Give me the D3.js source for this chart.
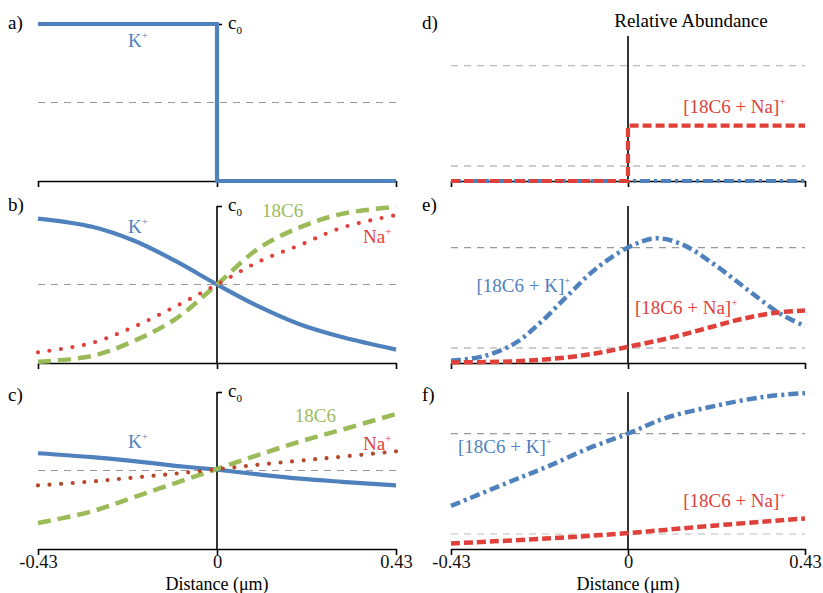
<!DOCTYPE html>
<html>
<head>
<meta charset="utf-8">
<script src="https://cdn.jsdelivr.net/npm/d3@7"></script>
<style>
  body { margin: 0; background: #fff; }
  text { font-family: "Liberation Serif", "Times New Roman", serif; }
</style>
</head>
<body>
<main></main>
<script>
// ---- data ----
var xTicks = [-0.43, 0, 0.43];
var xTickLabels = ['-0.43', '0', '0.43'];

// a) step profile
var stepX = [-0.43, 0, 0, 0.43];
var kA = [1, 1, 0, 0];

// b), c) sampled profiles, fraction of c0
var xsLeft = [-0.43, -0.3, -0.2, -0.1, 0, 0.1, 0.2, 0.3, 0.43];
var kB = [0.92, 0.868, 0.78, 0.65, 0.5, 0.36, 0.245, 0.165, 0.085];
var gB = [0.008, 0.045, 0.14, 0.28, 0.5, 0.73, 0.865, 0.95, 0.995];
var nB = [0.068, 0.128, 0.23, 0.36, 0.5, 0.645, 0.752, 0.862, 0.942];
var kC = [0.61, 0.585, 0.56, 0.53, 0.505, 0.475, 0.448, 0.428, 0.405];
var gC = [0.166, 0.24, 0.33, 0.42, 0.51, 0.6, 0.685, 0.76, 0.86];
var nC = [0.405, 0.43, 0.455, 0.48, 0.508, 0.537, 0.563, 0.588, 0.622];

// d) relative abundance
var kDx = [-0.43, 0.43];
var kD = [0, 0];
var nD = [0, 0, 0.48, 0.48];

// e)
var kEx = [-0.43, -0.355, -0.275, -0.21, -0.145, -0.08, 0, 0.066, 0.13, 0.211, 0.292, 0.373, 0.43];
var kE = [0.02, 0.055, 0.17, 0.36, 0.59, 0.81, 1.0, 1.08, 1.03, 0.85, 0.63, 0.42, 0.32];
var nEx = [-0.43, -0.27, -0.145, -0.063, 0, 0.11, 0.2, 0.28, 0.36, 0.43];
var nE = [0.005, 0.015, 0.05, 0.093, 0.14, 0.224, 0.31, 0.384, 0.436, 0.455];

// f)
var kFx = [-0.43, -0.275, -0.193, -0.097, 0, 0.091, 0.212, 0.334, 0.43];
var kF = [0.373, 0.6, 0.718, 0.87, 1.0, 1.134, 1.24, 1.32, 1.35];
var nFx = [-0.43, -0.2, 0, 0.2, 0.43];
var nF = [0.048, 0.09, 0.138, 0.2, 0.264];

var BLUE = '#4f81bd', GREEN = '#9bbb59', RED = '#e0403a', BROWN = '#b5482a';

var svg = d3.select("main").append("svg")
  .attr("width", 823)
  .attr("height", 593)
  .attr("font-family", '"Liberation Serif", "Times New Roman", serif');

var panelH = 157;
var rows = [181, 363, 549];

function zip(xs, ys) {
  return xs.map(function(x, i) { return [x, ys[i]]; });
}

function makePanel(left, row, maxY) {
  var x = left ? d3.scaleLinear().domain([-0.43, 0.43]).range([38, 396])
               : d3.scaleLinear().domain([-0.43, 0.43]).range([451, 805]);
  var y = d3.scaleLinear().domain([0, maxY]).range([rows[row], rows[row] - panelH]);
  return { x: x, y: y, g: svg.append("g") };
}

function gridLine(p, v, color) {
  p.g.append("line")
    .attr("x1", p.x(-0.43)).attr("x2", p.x(0.43))
    .attr("y1", p.y(v)).attr("y2", p.y(v))
    .attr("stroke", color)
    .attr("stroke-width", 1.2)
    .attr("stroke-dasharray", "7 6");
}

function xAxis(p, labels) {
  var ax = d3.axisBottom(p.x)
    .tickValues(xTicks)
    .tickSize(6)
    .tickPadding(0)
    .tickSizeOuter(0)
    .tickFormat(function(d, i) { return labels ? xTickLabels[i] : ''; });
  var g = p.g.append("g")
    .attr("transform", "translate(0," + p.y(0) + ")")
    .call(ax);
  g.select(".domain").attr("stroke", "#000").attr("stroke-width", 1.6);
  g.selectAll(".tick line").attr("stroke", "#000").attr("stroke-width", 1.6);
  g.selectAll(".tick text")
    .attr("font-family", '"Liberation Serif", serif')
    .attr("font-size", 18.5)
    .attr("fill", "#111");
  if (labels) {
    p.g.append("text")
      .attr("x", p.x(0))
      .attr("y", p.y(0) + 40.5)
      .attr("text-anchor", "middle")
      .attr("font-size", 18)
      .text("Distance (\u03bcm)");
  }
}

function cAxis(p) {
  // vertical axis at x = 0 with a single c0 tick
  var ax = d3.axisRight(p.y).tickValues([1]).tickSize(5).tickSizeOuter(0)
    .tickFormat('');
  var g = p.g.append("g")
    .attr("transform", "translate(" + p.x(0) + ",0)")
    .call(ax);
  g.select(".domain").remove();
  g.selectAll(".tick line").attr("stroke", "#000").attr("stroke-width", 1.6);
  p.g.append("line")
    .attr("x1", p.x(0)).attr("x2", p.x(0))
    .attr("y1", p.y(1)).attr("y2", p.y(0))
    .attr("stroke", "#000").attr("stroke-width", 1.6);
  var t = p.g.append("text")
    .attr("x", p.x(0) + 11)
    .attr("y", p.y(1) + 5)
    .attr("font-size", 19);
  t.append("tspan").text("c");
  t.append("tspan").attr("font-size", 11).attr("dy", 5).text("0");
}

function vLine(p, top) {
  p.g.append("line")
    .attr("x1", p.x(0)).attr("x2", p.x(0))
    .attr("y1", p.y(top)).attr("y2", p.y(0))
    .attr("stroke", "#000").attr("stroke-width", 1.6);
}

function curve(p, pts, color, dash, width, cap, curveType) {
  var line = d3.line()
    .x(function(d) { return p.x(d[0]); })
    .y(function(d) { return p.y(d[1]); })
    .curve(curveType || d3.curveCatmullRom.alpha(0.5));
  p.g.append("path")
    .datum(pts)
    .attr("d", line)
    .attr("fill", "none")
    .attr("stroke", color)
    .attr("stroke-width", width || 4)
    .attr("stroke-dasharray", dash || null)
    .attr("stroke-linecap", cap || "butt");
}

function label(p, xv, yv, main, sup, color) {
  var t = p.g.append("text")
    .attr("x", p.x(xv))
    .attr("y", p.y(yv))
    .attr("font-size", 19)
    .attr("fill", color);
  t.append("tspan").text(main);
  if (sup) t.append("tspan").attr("font-size", 11).attr("dy", -8).text(sup);
}

function panelLetter(left, row, txt) {
  svg.append("text")
    .attr("x", left ? 8 : 422)
    .attr("y", rows[row] - panelH + [5, 5, 9][row])
    .attr("font-size", 19)
    .text(txt);
}

var SOLID = null, GDASH = "13 7", DOTS = "0 11.6", RDASH = "9 4", DASHDOT = "10 4 3 4";

// ---- a) ----
var pa = makePanel(true, 0, 1);
gridLine(pa, 0.5, "#999");
xAxis(pa, false);
cAxis(pa);
curve(pa, zip(stepX, kA), BLUE, SOLID, 4.2, "butt", d3.curveLinear);
label(pa, -0.214, 0.854, "K", "+", BLUE);

// ---- b) ----
var pb = makePanel(true, 1, 1);
gridLine(pb, 0.5, "#999");
xAxis(pb, false);
cAxis(pb);
curve(pb, zip(xsLeft, kB), BLUE, SOLID, 4.2);
curve(pb, zip(xsLeft, gB), GREEN, GDASH, 4.5);
curve(pb, zip(xsLeft, nB), RED, DOTS, 4.2, "round");
label(pb, -0.214, 0.828, "K", "+", BLUE);
label(pb, 0.108, 0.93, "18C6", null, GREEN);
label(pb, 0.351, 0.764, "Na", "+", RED);

// ---- c) ----
var pc = makePanel(true, 2, 1);
gridLine(pc, 0.5, "#999");
xAxis(pc, true);
cAxis(pc);
curve(pc, zip(xsLeft, kC), BLUE, SOLID, 4.2);
curve(pc, zip(xsLeft, gC), GREEN, GDASH, 4.5);
curve(pc, zip(xsLeft, nC), BROWN, DOTS, 4.2, "round");
label(pc, -0.214, 0.643, "K", "+", BLUE);
label(pc, 0.187, 0.809, "18C6", null, GREEN);
label(pc, 0.351, 0.631, "Na", "+", RED);

// ---- d) ----
var pd = makePanel(false, 0, 1.36);
gridLine(pd, 1, "#bbb");
gridLine(pd, 0.13, "#999");
xAxis(pd, false);
vLine(pd, 1.255);
curve(pd, zip(kDx, kD), BLUE, DASHDOT, 4.2, "butt", d3.curveLinear);
curve(pd, zip(stepX, nD), RED, RDASH, 4.2, "butt", d3.curveLinear);
label(pd, 0.134, 0.587, "[18C6 + Na]", "+", RED);
pd.g.append("text")
  .attr("x", pd.x(0.153))
  .attr("y", 27)
  .attr("text-anchor", "middle")
  .attr("font-size", 19)
  .text("Relative Abundance");

// ---- e) ----
var pe = makePanel(false, 1, 1.36);
gridLine(pe, 1, "#999");
gridLine(pe, 0.13, "#999");
xAxis(pe, false);
vLine(pe, 1.36);
curve(pe, zip(kEx, kE), BLUE, DASHDOT, 4.5);
curve(pe, zip(nEx, nE), RED, RDASH, 4.5);
label(pe, -0.368, 0.618, "[18C6 + K]", "+", BLUE);
label(pe, 0.017, 0.425, "[18C6 + Na]", "+", RED);

// ---- f) ----
var pf = makePanel(false, 2, 1.36);
gridLine(pf, 1, "#999");
gridLine(pf, 0.13, "#bbb");
xAxis(pf, true);
vLine(pf, 1.36);
curve(pf, zip(kFx, kF), BLUE, DASHDOT, 4.5);
curve(pf, zip(nFx, nF), RED, RDASH, 4.5);
label(pf, -0.413, 0.829, "[18C6 + K]", "+", BLUE);
label(pf, 0.134, 0.367, "[18C6 + Na]", "+", RED);

panelLetter(true, 0, "a)");
panelLetter(true, 1, "b)");
panelLetter(true, 2, "c)");
panelLetter(false, 0, "d)");
panelLetter(false, 1, "e)");
panelLetter(false, 2, "f)");
</script>
</body>
</html>
